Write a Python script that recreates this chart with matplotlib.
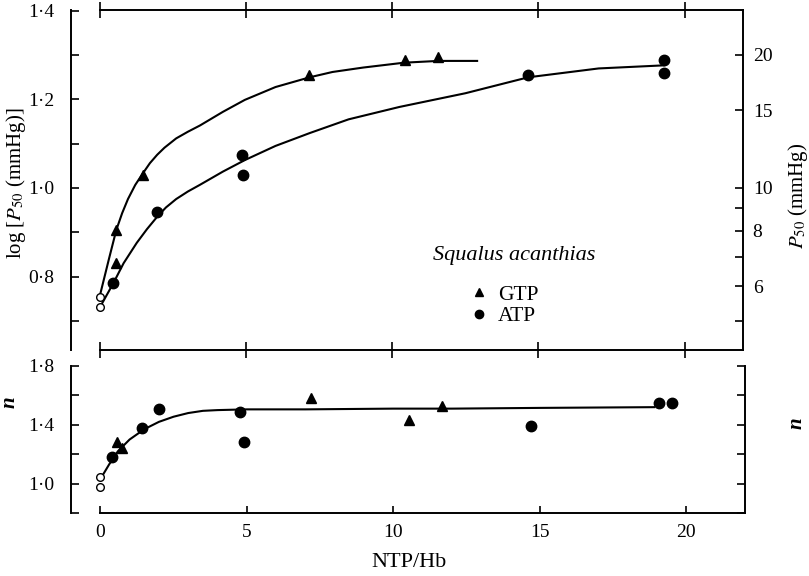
import numpy as np
import matplotlib
matplotlib.use('Agg')
from matplotlib import pyplot as plt

plt.rcParams['font.family'] = ['Liberation Serif', 'DejaVu Serif']
plt.rcParams['mathtext.fontset'] = 'stix'
plt.rcParams['font.size'] = 14

# upper panel: log P50 against NTP/Hb
gtp_x = [0.55, 0.55, 1.45, 7.14, 10.43, 11.57]
gtp_logp50 = [0.83, 0.905, 1.03, 1.255, 1.289, 1.296]
atp_x = [0.45, 1.95, 4.85, 4.9, 14.65, 19.3, 19.3]
atp_logp50 = [0.785, 0.946, 1.075, 1.03, 1.255, 1.29, 1.26]
stripped_x = [0, 0]
stripped_logp50 = [0.754, 0.731]

# hand drawn curves
gtp_curve_x = [0.0, 0.3, 0.55, 0.75, 0.95, 1.2, 1.47, 1.7, 1.95, 2.2, 2.6, 3.0, 3.41, 4.2, 4.95,
               6.0, 7.17, 7.95, 9.0, 10.4, 11.57, 12.9]
gtp_curve_y = [0.76, 0.84, 0.905, 0.943, 0.975, 1.007, 1.034, 1.056, 1.075, 1.091, 1.112, 1.127, 1.141,
               1.172, 1.199, 1.228, 1.25, 1.262, 1.272, 1.283, 1.287, 1.287]
atp_curve_x = [0.07, 0.45, 0.8, 1.25, 1.6, 1.95, 2.25, 2.6, 3.0, 3.41, 4.2, 4.95, 6.0, 7.17, 8.5,
               10.24, 12.5, 14.65, 17.06, 19.3]
atp_curve_y = [0.74, 0.785, 0.83, 0.876, 0.907, 0.935, 0.956, 0.975, 0.992, 1.007, 1.037, 1.063, 1.095,
               1.124, 1.155, 1.183, 1.214, 1.25, 1.27, 1.277]

# lower panel: Hill coefficient n
gtp_x_n = [0.57, 0.73, 7.2, 10.55, 11.67]
gtp_n = [1.28, 1.24, 1.58, 1.43, 1.53]
atp_x_n = [0.4, 1.43, 2.0, 4.78, 4.92, 14.7, 19.08, 19.5]
atp_n = [1.18, 1.38, 1.51, 1.49, 1.28, 1.39, 1.55, 1.55]
stripped_n = [1.045, 0.98]

n_curve_x = [0.0, 0.3, 0.6, 1.0, 1.5, 2.0, 2.5, 3.0, 3.5, 4.0, 5.0, 7.0, 10.0, 12.0, 15.0, 18.9]
n_curve_y = [1.03, 1.13, 1.22, 1.30, 1.37, 1.42, 1.455, 1.48, 1.495, 1.50, 1.505, 1.505, 1.51, 1.51, 1.515, 1.52]

x_ticks = [0, 5, 10, 15, 20]
logp_ticks = [0.7, 0.8, 0.9, 1.0, 1.1, 1.2, 1.3, 1.4]
logp_labels = ['', '0·8', '', '1·0', '', '1·2', '', '1·4']
p50_ticks = [5, 6, 7, 8, 9, 10, 15, 20]
p50_labels = ['', '6', '', '8', '', '10', '15', '20']
n_ticks = [0.8, 1.0, 1.2, 1.4, 1.6, 1.8]
n_labels = ['', '1·0', '', '1·4', '', '1·8']

W, H = 809, 576
fig = plt.figure(figsize=(W / 100, H / 100), dpi=100)

def box(l, t, r, b):
    return [l / W, 1 - b / H, (r - l) / W, (b - t) / H]

ax = fig.add_axes(box(71, 10, 743, 350))
ax2 = fig.add_axes(box(71, 366, 745, 513))

lw = 1.5
# upper panel
ax.plot(gtp_curve_x, gtp_curve_y, color='black', lw=lw)
ax.plot(atp_curve_x, atp_curve_y, color='black', lw=lw)
ax.plot(gtp_x, gtp_logp50, '^', color='black', ms=7, ls='none', label='GTP')
ax.plot(atp_x, atp_logp50, 'o', color='black', ms=7.5, ls='none', label='ATP')
ax.plot(stripped_x, stripped_logp50, 'o', mfc='white', mec='black', mew=1, ms=5.5, ls='none')

ax.set_xlim(-1, 22)
ax.set_ylim(0.634, 1.402)
ax.spines['top'].set_bounds(0, 22)
ax.spines['bottom'].set_bounds(0, 22)
ax.spines['right'].set_visible(False)
ax.set_yticks(logp_ticks)
ax.set_yticklabels(logp_labels)
ax.set_xticks(x_ticks)
ax.tick_params(axis='y', direction='in', length=6, width=1.2, pad=12, labelsize=14)
ax.tick_params(axis='x', direction='inout', length=11, width=1.2, labelbottom=False, top=True)
ax.set_ylabel(r'log [$P_{50}$ (mmHg)]', fontsize=15)
ax.yaxis.set_label_coords(-0.064, 0.49)

# right hand P50 scale
axr = ax.twinx()
axr.set_ylim(ax.get_ylim())
axr.set_yticks(np.log10(p50_ticks))
axr.set_yticklabels(p50_labels)
axr.tick_params(axis='y', direction='in', length=6, width=1.2, pad=7, labelsize=14)
for side in ['left', 'top', 'bottom']:
    axr.spines[side].set_visible(False)
axr.set_ylabel(r'$P_{50}$ (mmHg)', fontsize=15, rotation=90)
axr.yaxis.set_label_coords(1.064, 0.453)

for s in ax.spines.values():
    s.set_linewidth(1.4)
axr.spines['right'].set_linewidth(1.4)

ax.text(0.66, 0.279, 'Squalus acanthias', transform=ax.transAxes,
        fontstyle='italic', fontsize=16, ha='center', va='center')
ax.legend(loc='upper left', bbox_to_anchor=(0.581, 0.223), frameon=False,
          handlelength=0.6, handletextpad=0.6, labelspacing=0.05,
          markerscale=0.8, fontsize=15.5, borderpad=0)

# lower panel
ax2.plot(n_curve_x, n_curve_y, color='black', lw=lw)
ax2.plot(gtp_x_n, gtp_n, '^', color='black', ms=7, ls='none')
ax2.plot(atp_x_n, atp_n, 'o', color='black', ms=7.5, ls='none')
ax2.plot(stripped_x, stripped_n, 'o', mfc='white', mec='black', mew=1, ms=5.5, ls='none')

ax2.set_xlim(-1, 22)
ax2.set_ylim(0.8, 1.8)
ax2.spines['top'].set_visible(False)
ax2.spines['bottom'].set_bounds(0, 22)
for s in ax2.spines.values():
    s.set_linewidth(1.4)
ax2.set_xticks(x_ticks)
ax2.set_yticks(n_ticks)
ax2.set_yticklabels(n_labels)
ax2.tick_params(axis='y', direction='in', length=6, width=1.2, pad=12, labelsize=14, right=True)
ax2.tick_params(axis='x', direction='in', length=5, width=1.2, pad=8, labelsize=14)
ax2.set_ylabel('n', fontstyle='italic', fontweight='bold', fontsize=15)
ax2.yaxis.set_label_coords(-0.076, 0.755)
fig.text(797 / W, 1 - 423 / H, 'n', fontstyle='italic', fontweight='bold',
         fontsize=15, rotation=90, ha='center', va='center')
ax2.set_xlabel('NTP/Hb', fontsize=16)
ax2.xaxis.set_label_coords(0.501, -0.27)

fig.savefig('out.png', dpi=100)
